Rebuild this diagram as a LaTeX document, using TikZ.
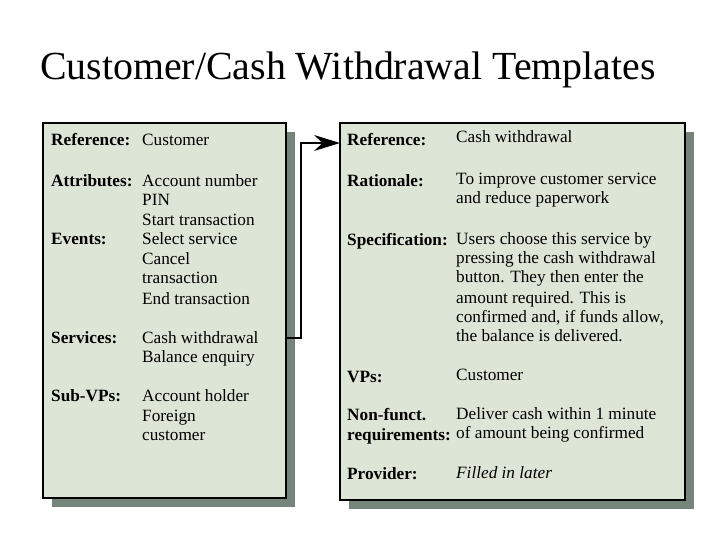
\documentclass[tikz,border=0pt]{standalone}
\usepackage{fontspec}
\setmainfont{Liberation Serif}
\usetikzlibrary{arrows.meta}
\definecolor{boxfill}{HTML}{DDE6D6}
\definecolor{shad}{HTML}{76857A}
\tikzset{
  panel/.style={draw=black,line width=1.6pt,fill=boxfill},
  shadowbox/.style={fill=shad,draw=none},
  lab/.style={anchor=base west,font=\fontsize{17.3}{19}\selectfont\bfseries,inner sep=0pt},
  val/.style={anchor=base west,font=\fontsize{17.3}{19}\selectfont,inner sep=0pt},
}
\begin{document}
\begin{tikzpicture}[x=1bp,y=-1bp]
\useasboundingbox (0,0) rectangle (720,540);
\node[anchor=base west,font=\fontsize{40}{44}\selectfont,inner sep=0pt] (title) at (40,80) {Customer/Cash Withdrawal Templates};
% shadows
\fill[shadowbox] (52,132) rectangle (295,507);
\fill[shadowbox] (349,132) rectangle (694,509);
% panels
\draw[panel] (43,123) rectangle (286,498);
\draw[panel] (340,123) rectangle (685,500);
\coordinate (L) at (286,338);
\coordinate (R) at (340,143);
\draw[line width=1.6pt,-{Stealth[length=26pt,width=16pt]}] (L) -- (301,338) -- (301,143) -- (R);
% left text
\def\lx{51}\def\vx{142}
\node[lab] (l1) at (\lx,146) {Reference:};
\node[val] (v1) at (\vx,146) {Customer};
\node[lab] (l2) at (\lx,187) {Attributes:};
\node[val] at (\vx,187) {Account number};
\node[val] at (\vx,206) {PIN};
\node[val] at (\vx,226) {Start transaction};
\node[lab] (l3) at (\lx,245) {Events:};
\node[val] at (\vx,245) {Select service};
\node[val] at (\vx,265) {Cancel};
\node[val] at (\vx,284) {transaction};
\node[val] at (\vx,304) {End transaction};
\node[lab] (l4) at (\lx,343) {Services:};
\node[val] at (\vx,343) {Cash withdrawal};
\node[val] at (\vx,362) {Balance enquiry};
\node[lab] (l5) at (\lx,401) {Sub-VPs:};
\node[val] at (\vx,401) {Account holder};
\node[val] at (\vx,421) {Foreign};
\node[val] at (\vx,440) {customer};
% right text
\def\rx{347}\def\wx{456}
\node[lab] at (\rx,146) {Reference:};
\node[val] at (\wx,143) {Cash withdrawal};
\node[lab] at (\rx,187) {Rationale:};
\node[val] at (\wx,185) {To improve customer service};
\node[val] at (\wx,204) {and reduce paperwork};
\node[lab] at (\rx,246) {Specification:};
\node[val] at (\wx,245) {Users choose this service by};
\node[val] at (\wx,264) {pressing the cash withdrawal};
\node[val] at (\wx,283) {button. They then enter the};
\node[val] at (\wx,303) {amount required. This is};
\node[val] at (\wx,322) {confirmed and, if funds allow,};
\node[val] at (\wx,341) {the balance is delivered.};
\node[lab] at (\rx,382) {VPs:};
\node[val] at (\wx,380) {Customer};
\node[lab] at (\rx,420) {Non-funct.};
\node[lab] at (\rx,440) {requirements:};
\node[val] at (\wx,419) {Deliver cash within 1 minute};
\node[val] at (\wx,438) {of amount being confirmed};
\node[lab] at (\rx,479) {Provider:};
\node[val,font=\fontsize{17.3}{19}\selectfont\itshape] at (\wx,478) {Filled in later};
\end{tikzpicture}
\end{document}
